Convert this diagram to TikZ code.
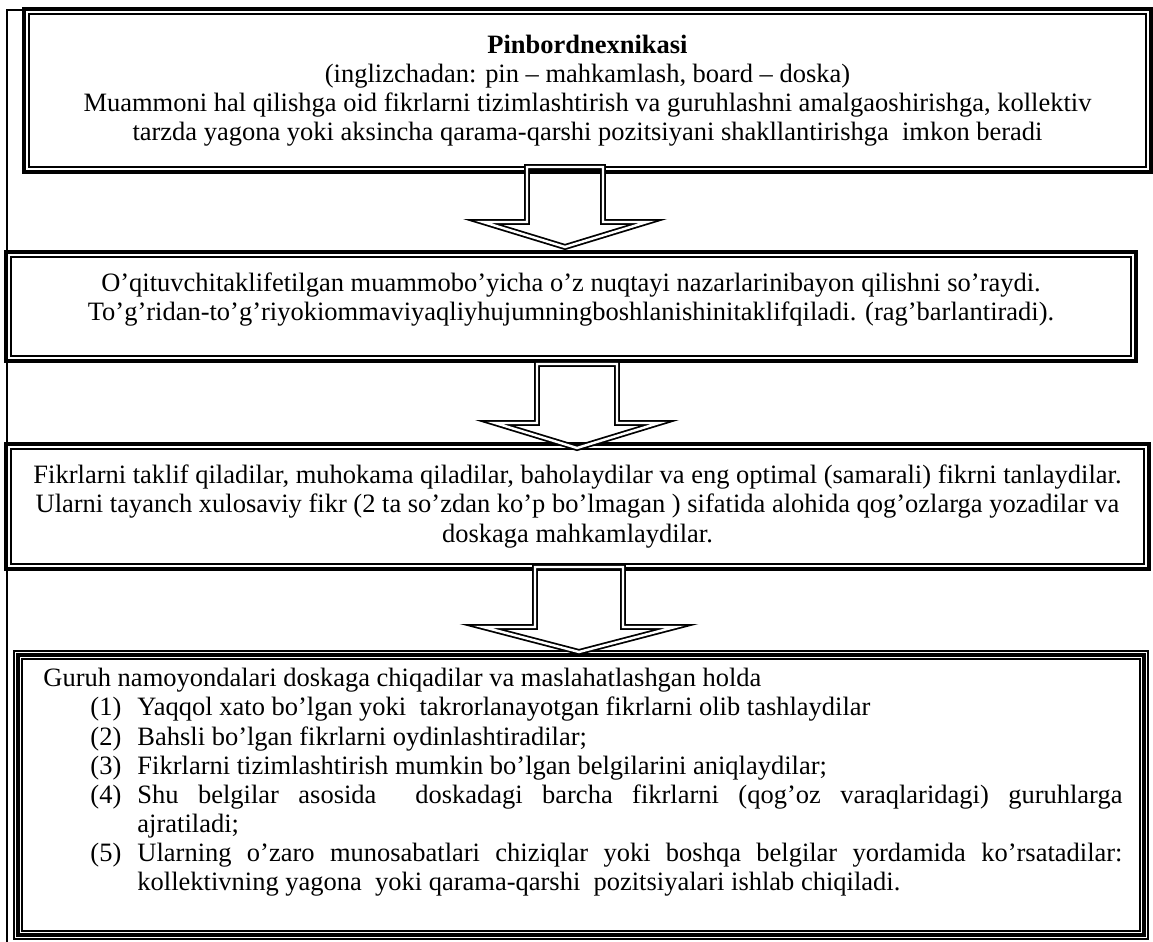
\documentclass[tikz,border=0pt]{standalone}
\usepackage{fontspec}
\setmainfont{Liberation Serif}
\usetikzlibrary{calc,fit}

\tikzset{
	box/.style={draw, line width=1.4pt, inner sep=0pt, outer sep=0pt},
	inline/.style={draw, line width=0.7pt},
	txt/.style={font=\fontsize{12}{13.2}\selectfont, align=center, inner sep=0pt},
	hollow/.style={draw, double, line width=0.8pt, double distance=1.1pt}
}

\begin{document}
\begin{tikzpicture}[x=0.453pt, y=-0.453pt]
	\useasboundingbox (0,0) rectangle (1153,942);
	% page edge
	\draw[line width=0.6pt] (7,942) -- (7,10) -- (24,10);

	% first box
	\node[box, fit={(24,9) (1151,172)}] (b1) {};
	\draw[inline] ($(b1.north west)+(5,5)$) rectangle ($(b1.south east)+(-5,-5)$);
	\node[txt] (t1) at (b1.center) {\textbf{Pinbordnexnikasi}\\(inglizchadan: pin – mahkamlash, board – doska)\\Muammoni hal qilishga oid fikrlarni tizimlashtirish va guruhlashni amalgaoshirishga, kollektiv\\tarzda yagona yoki aksincha qarama-qarshi pozitsiyani shakllantirishga\ \ imkon beradi};

	% second box
	\node[box, fit={(6,252) (1136,361)}] (b2) {};
	\draw[inline] ($(b2.north west)+(5,5)$) rectangle ($(b2.south east)+(-5,-5)$);
	\node[txt] (t2) at ($(b2.center)+(0,-7)$) {O’qituvchitaklifetilgan muammobo’yicha o’z nuqtayi nazarlarinibayon qilishni so’raydi.\\To’g’ridan-to’g’riyokiommaviyaqliyhujumningboshlanishinitaklifqiladi. (rag’barlantiradi).};

	% third box
	\node[box, fit={(6,444) (1149,569)}] (b3) {};
	\draw[inline] ($(b3.north west)+(5,5)$) rectangle ($(b3.south east)+(-5,-5)$);
	\node[txt] (t3) at (b3.center) {Fikrlarni taklif qiladilar, muhokama qiladilar, baholaydilar va eng optimal (samarali) fikrni tanlaydilar.\\Ularni tayanch xulosaviy fikr (2 ta so’zdan ko’p bo’lmagan ) sifatida alohida qog’ozlarga yozadilar va\\doskaga mahkamlaydilar.};

	% fourth box, three lines
	\node[box, line width=0.7pt, fit={(14,651) (1148,939)}] (b4) {};
	\draw[line width=1.4pt] ($(b4.north west)+(4,4)$) rectangle ($(b4.south east)+(-4,-4)$);
	\draw[inline] ($(b4.north west)+(8,8)$) rectangle ($(b4.south east)+(-8,-8)$);
	\node[txt, text width=488.8pt, align=justify, anchor=north west] (t4) at ($(b4.north west)+(29,17)$) {\parindent=0pt
		Guruh namoyondalari doskaga chiqadilar va maslahatlashgan holda\par
		\hangindent=42.6pt\hangafter=1\hspace*{21.3pt}\makebox[21.3pt][l]{(1)}Yaqqol xato bo’lgan yoki\ \ takrorlanayotgan fikrlarni olib tashlaydilar\par
		\hangindent=42.6pt\hangafter=1\hspace*{21.3pt}\makebox[21.3pt][l]{(2)}Bahsli bo’lgan fikrlarni oydinlashtiradilar;\par
		\hangindent=42.6pt\hangafter=1\hspace*{21.3pt}\makebox[21.3pt][l]{(3)}Fikrlarni tizimlashtirish mumkin bo’lgan belgilarini aniqlaydilar;\par
		\hangindent=42.6pt\hangafter=1\hspace*{21.3pt}\makebox[21.3pt][l]{(4)}Shu belgilar asosida\ \ doskadagi barcha fikrlarni (qog’oz varaqlaridagi) guruhlarga\linebreak ajratiladi;\par
		\hangindent=42.6pt\hangafter=1\hspace*{21.3pt}\makebox[21.3pt][l]{(5)}Ularning o’zaro munosabatlari chiziqlar yoki boshqa belgilar yordamida ko’rsatadilar:\linebreak kollektivning yagona\ \ yoki qarama-qarshi\ \ pozitsiyalari ishlab chiqiladi.\par};

	% arrows
	\coordinate (a1) at (565,167);
	\draw[hollow] ($(a1)+(-38,0)$) -- ++(0,55) -- ++(-44,0) -- ++(82,25) -- ++(82,-25) -- ++(-44,0) -- ++(0,-55) -- cycle;
	\coordinate (a2) at (577,364);
	\draw[hollow] ($(a2)+(-40,0)$) -- ++(0,59) -- ++(-42,0) -- ++(82,25) -- ++(82,-25) -- ++(-42,0) -- ++(0,-59) -- cycle;
	\coordinate (a3) at (579,567);
	\draw[hollow] ($(a3)+(-44,0)$) -- ++(0,60) -- ++(-52,0) -- ++(96,25) -- ++(96,-25) -- ++(-52,0) -- ++(0,-60) -- cycle;
\end{tikzpicture}
\end{document}
